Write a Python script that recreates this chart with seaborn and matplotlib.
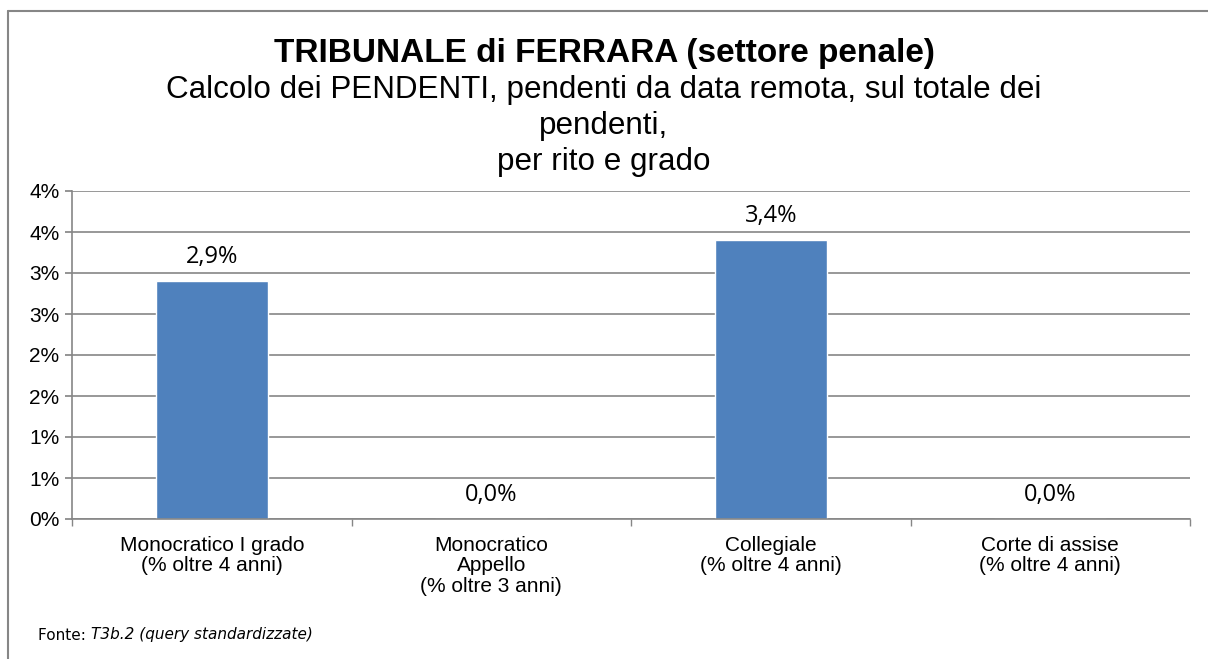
import numpy as np
import pandas as pd
import seaborn as sns
import matplotlib.pyplot as plt
from matplotlib.ticker import FuncFormatter, MultipleLocator, FixedLocator
from matplotlib.lines import Line2D

categories = [
    "Monocratico I grado\n(% oltre 4 anni)",
    "Monocratico\nAppello\n(% oltre 3 anni)",
    "Collegiale\n(% oltre 4 anni)",
    "Corte di assise\n(% oltre 4 anni)",
]
values = [2.9, 0.0, 3.4, 0.0]

df = pd.DataFrame({"rito": categories, "pct": values})

sns.set_theme(style="white")
plt.rcParams["font.family"] = ["Liberation Sans", "DejaVu Sans"]
plt.rcParams["text.color"] = "black"
plt.rcParams["xtick.color"] = "black"
plt.rcParams["ytick.color"] = "black"

fig = plt.figure(figsize=(12.08, 6.59), dpi=100)
ax = fig.add_axes([72 / 1208, 1 - 519 / 659, (1190 - 72) / 1208, (519 - 191) / 659])

sns.barplot(data=df, x="rito", y="pct", color="#4F81BD", saturation=1,
            width=0.4, ax=ax)

ax.set_ylim(0, 4.0)
ax.set_xlim(-0.5, len(categories) - 0.5)
ax.yaxis.set_major_locator(MultipleLocator(0.5))
ax.yaxis.set_major_formatter(FuncFormatter(lambda v, p: f"{int(v + 0.5)}%"))
ax.grid(axis="y", color="#868686", linewidth=1.2)
ax.set_axisbelow(True)
ax.set_xlabel("")
ax.set_ylabel("")

for s in ["top", "right"]:
    ax.spines[s].set_visible(False)
for s in ["left", "bottom"]:
    ax.spines[s].set_color("#868686")
    ax.spines[s].set_linewidth(1.2)

ax.tick_params(axis="y", which="major", left=True, length=5, color="#868686",
               labelsize=15, pad=4)
ax.tick_params(axis="x", which="major", bottom=False, labelsize=15, pad=6)
for t in ax.get_xticklabels():
    t.set_linespacing(1.12)
ax.xaxis.set_minor_locator(FixedLocator(np.arange(-0.5, len(categories), 1.0)))
ax.tick_params(axis="x", which="minor", bottom=True, length=5, color="#868686")

for c in ax.containers:
    ax.bar_label(c, labels=[f"{v:.1f}%".replace(".", ",") for v in values],
                 padding=9, fontsize=17, family=["Open Sans", "DejaVu Sans"])

# title block (baselines)
fig.text(0.5, 1 - 62 / 659, "TRIBUNALE di FERRARA (settore penale)",
         ha="center", va="baseline", fontsize=24, fontweight="bold")
fig.text(0.5, 1 - 98 / 659,
         "Calcolo dei PENDENTI, pendenti da data remota, sul totale dei",
         ha="center", va="baseline", fontsize=22.6)
fig.text(0.5, 1 - 134 / 659, "pendenti,", ha="center", va="baseline",
         fontsize=22.6)
fig.text(0.5, 1 - 170 / 659, "per rito e grado", ha="center", va="baseline",
         fontsize=22.6)

src = fig.text(38 / 1208, 1 - 635 / 659, "Fonte: ", ha="left", va="center",
               fontsize=11, family="DejaVu Sans")
fig.canvas.draw()
bb = src.get_window_extent().transformed(fig.transFigure.inverted())
fig.text(bb.x1, 1 - 635 / 659, "T3b.2 (query standardizzate)", ha="left",
         va="center", fontsize=11, family="DejaVu Sans", style="italic")

# chart frame (top and left edges visible)
fig.add_artist(Line2D([8 / 1208, 1.0], [1 - 11 / 659, 1 - 11 / 659],
                      transform=fig.transFigure, color="#868686", linewidth=1.5))
fig.add_artist(Line2D([8 / 1208, 8 / 1208], [0.0, 1 - 11 / 659],
                      transform=fig.transFigure, color="#868686", linewidth=1.5))

fig.savefig("out.png", dpi=100)
